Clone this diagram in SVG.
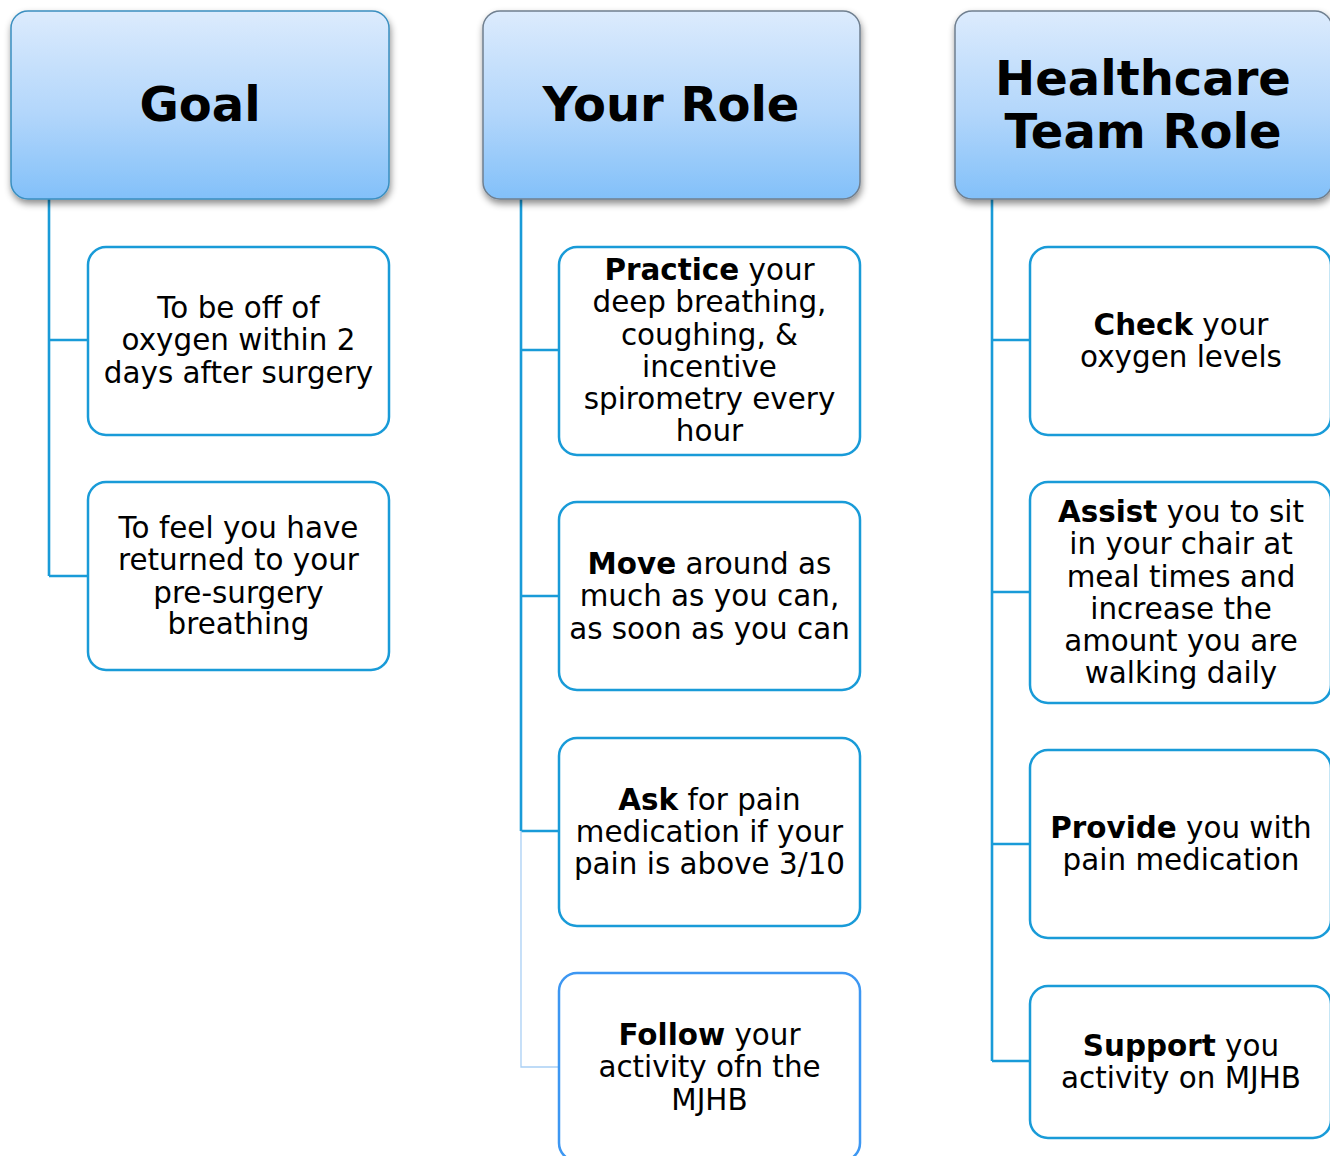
<svg xmlns="http://www.w3.org/2000/svg" width="1330" height="1156" viewBox="0 0 1330 1156">
<defs>
<linearGradient id="hg" x1="0" y1="0" x2="0" y2="1">
<stop offset="0" stop-color="#dcebfd"/>
<stop offset="0.55" stop-color="#b2d6fb"/>
<stop offset="1" stop-color="#82c0f9"/>
</linearGradient>
<filter id="sh" x="-10%" y="-10%" width="125%" height="130%">
<feDropShadow dx="1" dy="4" stdDeviation="3.5" flood-color="#000" flood-opacity="0.45"/>
</filter>
<style>
.hdr{fill:url(#hg);stroke:#6f7f8f;stroke-width:1.5;filter:url(#sh)}
.box{fill:#fff;stroke:#199bd8;stroke-width:2.5}
.ht{font-family:Verdana,"DejaVu Sans",sans-serif;font-weight:bold;font-size:48px;fill:#000;text-anchor:middle}
.t{font-family:Verdana,"DejaVu Sans",sans-serif;font-size:29.4px;fill:#000;text-anchor:middle}
.b{font-weight:bold}
.ln{fill:none;stroke:#199bd8;stroke-width:2.6}
.lt{fill:none;stroke:#a9cff5;stroke-width:1.3}
</style>
</defs>
<rect width="1330" height="1156" fill="#fff"/>
<g id="connectors">
<path class="ln" d="M49,199 V576 M49,340 H88 M49,576 H88"/>
<path class="ln" d="M521,199 V831 M521,350 H559 M521,596 H559 M521,831 H559"/>
<path class="lt" d="M521,831 V1067 H559"/>
<path class="ln" d="M992,199 V1061 M992,340 H1030 M992,592 H1030 M992,844 H1030 M992,1061 H1030"/>
</g>
<g id="goal">
<rect class="hdr" x="11" y="11" width="378" height="188" rx="17" style="stroke:#3a8fc0"/>
<text class="ht" x="200" y="121">Goal</text>
</g>
<g id="your-role">
<rect class="hdr" x="483" y="11" width="377" height="188" rx="17"/>
<text class="ht" x="671" y="121">Your Role</text>
</g>
<g id="healthcare">
<rect class="hdr" x="955" y="11" width="377" height="188" rx="17"/>
<text class="ht" x="1143" y="95">Healthcare</text>
<text class="ht" x="1143" y="148">Team Role</text>
</g>
<g id="goal1">
<rect class="box" x="88" y="247" width="301" height="188" rx="18"/>
<text class="t" x="238.5" y="318">To be off of</text>
<text class="t" x="238.5" y="350">oxygen within 2</text>
<text class="t" x="238.5" y="383">days after surgery</text>
</g>
<g id="goal2">
<rect class="box" x="88" y="482" width="301" height="188" rx="18"/>
<text class="t" x="238.5" y="538">To feel you have</text>
<text class="t" x="238.5" y="570">returned to your</text>
<text class="t" x="238.5" y="603">pre-surgery</text>
<text class="t" x="238.5" y="634">breathing</text>
</g>
<g id="role1">
<rect class="box" x="559" y="247" width="301" height="208" rx="18"/>
<text class="t" x="709.5" y="280"><tspan class="b">Practice</tspan> your</text>
<text class="t" x="709.5" y="312">deep breathing,</text>
<text class="t" x="709.5" y="345">coughing, &amp;</text>
<text class="t" x="709.5" y="377">incentive</text>
<text class="t" x="709.5" y="409">spirometry every</text>
<text class="t" x="709.5" y="441">hour</text>
</g>
<g id="role2">
<rect class="box" x="559" y="502" width="301" height="188" rx="18"/>
<text class="t" x="709.5" y="574"><tspan class="b">Move</tspan> around as</text>
<text class="t" x="709.5" y="606">much as you can,</text>
<text class="t" x="709.5" y="639">as soon as you can</text>
</g>
<g id="role3">
<rect class="box" x="559" y="738" width="301" height="188" rx="18"/>
<text class="t" x="709.5" y="810"><tspan class="b">Ask</tspan> for pain</text>
<text class="t" x="709.5" y="842">medication if your</text>
<text class="t" x="709.5" y="874">pain is above 3/10</text>
</g>
<g id="role4">
<rect class="box" x="559" y="973" width="301" height="188" rx="18" style="stroke:#3d97f2"/>
<text class="t" x="709.5" y="1045"><tspan class="b">Follow</tspan> your</text>
<text class="t" x="709.5" y="1077">activity ofn the</text>
<text class="t" x="709.5" y="1110">MJHB</text>
</g>
<g id="team1">
<rect class="box" x="1030" y="247" width="301" height="188" rx="18"/>
<text class="t" x="1181" y="335"><tspan class="b">Check</tspan> your</text>
<text class="t" x="1181" y="367">oxygen levels</text>
</g>
<g id="team2">
<rect class="box" x="1030" y="482" width="301" height="221" rx="18"/>
<text class="t" x="1181" y="522"><tspan class="b">Assist</tspan> you to sit</text>
<text class="t" x="1181" y="554">in your chair at</text>
<text class="t" x="1181" y="587">meal times and</text>
<text class="t" x="1181" y="619">increase the</text>
<text class="t" x="1181" y="651">amount you are</text>
<text class="t" x="1181" y="683">walking daily</text>
</g>
<g id="team3">
<rect class="box" x="1030" y="750" width="301" height="188" rx="18"/>
<text class="t" x="1181" y="838"><tspan class="b">Provide</tspan> you with</text>
<text class="t" x="1181" y="870">pain medication</text>
</g>
<g id="team4">
<rect class="box" x="1030" y="986" width="301" height="152" rx="18"/>
<text class="t" x="1181" y="1056"><tspan class="b">Support</tspan> you</text>
<text class="t" x="1181" y="1088">activity on MJHB</text>
</g>
</svg>
